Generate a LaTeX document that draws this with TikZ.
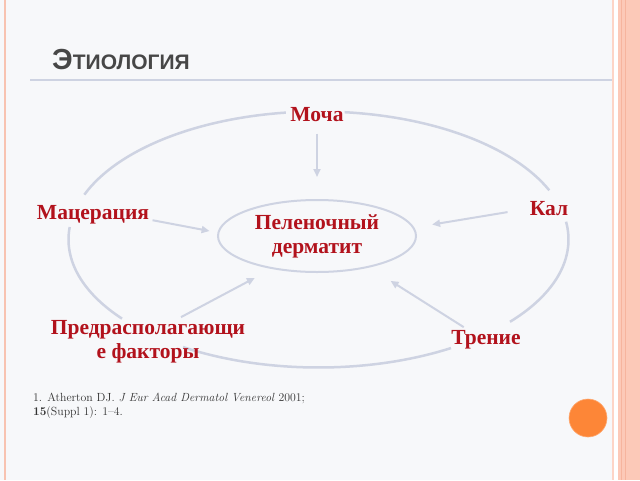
\documentclass[tikz,border=0pt]{standalone}
\usepackage{fontspec}
\newfontfamily\labfont{Liberation Serif}
\newfontfamily\headfont{Liberation Sans}
\usetikzlibrary{arrows.meta,shapes.geometric}
\definecolor{slide}{RGB}{247,248,250}
\definecolor{wine}{RGB}{178,18,28}
\definecolor{ringcol}{RGB}{206,211,226}
\definecolor{salmon}{RGB}{252,201,184}
\definecolor{salmondk}{RGB}{246,180,158}
\definecolor{dot}{RGB}{253,134,55}
\tikzset{%
  >={Triangle[width=7pt,length=8pt]},
        base/.style = {font=\labfont\bfseries\fontsize{21.5}{24}\selectfont,
                       text=wine, align=center},
        core/.style = {base, ellipse, draw=ringcol, line width=2pt,
                       minimum width=198pt, minimum height=72pt},
    ringline/.style = {draw=ringcol, line width=2.5pt},
        link/.style = {->, draw=ringcol, line width=2pt},
}

\begin{document}
\begin{tikzpicture}[x=1pt, y=1pt]
  \useasboundingbox (0,0) rectangle (640,-480);
  \fill[slide] (0,0) rectangle (640,-480);

  % slide frame
  \draw[salmondk!80, line width=2pt] (5,0) -- (5,-480);
  \fill[white] (612,0) rectangle (618,-480);
  \draw[salmon!80, line width=1.5pt] (613,0) -- (613,-480);
  \fill[salmon] (618,0) rectangle (640,-480);
  \draw[salmondk, line width=1pt] (621,0) -- (621,-480);
  \draw[salmondk, line width=1pt] (625,0) -- (625,-480);

  \node[anchor=base west, text=black!72, inner sep=0pt] (title) at (52,-69)
    {\headfont\bfseries\fontsize{29}{30}\selectfont Э\fontsize{21}{22}\selectfont ТИОЛОГИЯ};
  \draw[ringcol, line width=2.5pt] (30,-80) -- (612,-80);

  % outer ring, broken where the labels sit
  \coordinate (ringc) at (318.5,-239.5);
  \foreach \a/\b in {22.6/84, 97.5/159.5, 174.4/218.2, 237.2/302, -40/8}
    \draw[ringline] (ringc) ++(\a:250pt and 128pt)
      arc[start angle=\a, end angle=\b, x radius=250pt, y radius=128pt];

  \node (derm)  [core] at (317,-236) {Пеленочный\\дерматит};
  \node (mocha) [base] at (317,-115) {Моча};
  \node (macer) [base] at (93,-215)  {Мацерация};
  \node (kal)   [base] at (549,-209) {Кал};
  \node (pred)  [base] at (148,-342) {Предрасполагающи\\е факторы};
  \node (tren)  [base] at (486,-340) {Трение};

  \draw[link, shorten <=8pt, shorten >=22pt] (mocha) -- (derm);
  \draw[link, shorten >=8pt]                 (macer.-5) -- (derm.178);
  \draw[link, shorten <=19pt, shorten >=18pt] (kal.west) -- (derm.5);
  \draw[link, shorten >=19pt]                (pred.37) -- (derm.216);
  \draw[link, shorten >=25pt]                (tren.150) -- (derm.329);

  \node[anchor=base west, align=left, text=black!80, inner sep=0pt,
        font=\fontsize{11.8}{14}\selectfont] (cite) at (33,-415)
    {1. Atherton DJ. \textit{J Eur Acad Dermatol Venereol} 2001;\\
     \textbf{15}(Suppl 1): 1--4.};

  \node[circle, fill=dot, draw=dot!70, line width=0.6pt,
        minimum size=38pt, inner sep=0pt] (mark) at (588,-418) {};
\end{tikzpicture}
\end{document}
